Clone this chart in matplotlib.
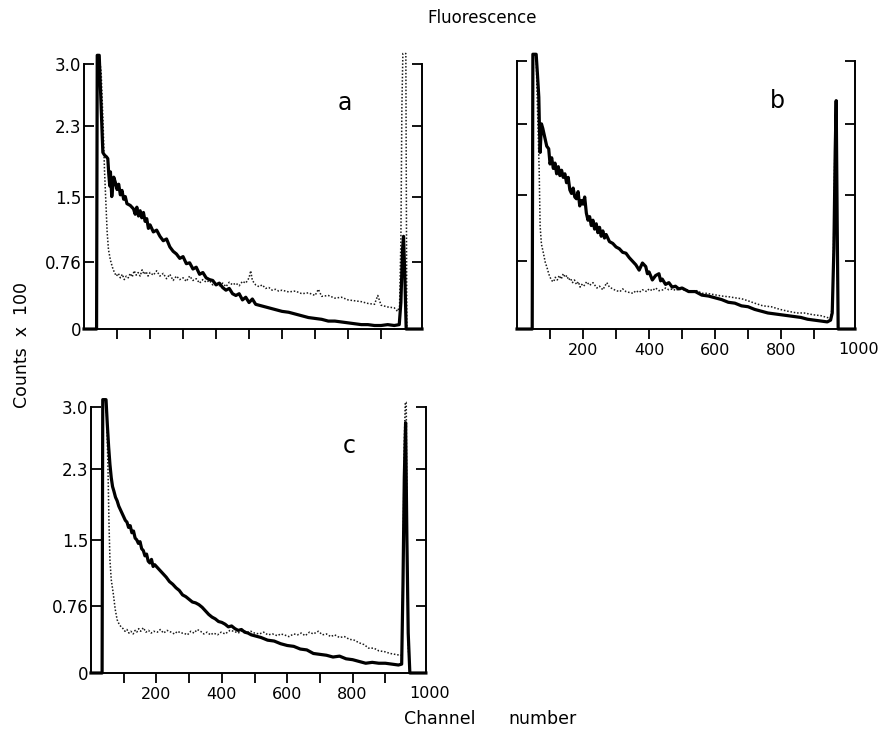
import matplotlib.pyplot as plt
import numpy as np

# channel / counts (x100)
a_solid_ch = [0, 38, 40, 46, 52, 57, 62, 68, 72, 75, 78, 80, 84, 90, 95, 100, 105, 110, 115, 120, 125, 130,
              140, 150, 155, 160, 165, 170, 175, 180, 185, 190, 195, 200, 210, 220, 230, 240, 250, 260, 270,
              280, 290, 300, 310, 320, 330, 340, 350, 360, 370, 380, 390, 400, 410, 420, 430, 440, 450, 460,
              470, 480, 490, 500, 510, 520, 530, 540, 560, 580, 600, 620, 640, 660, 680, 700, 720, 740, 760,
              780, 800, 820, 840, 860, 880, 900, 920, 940, 955, 960, 965, 968, 972, 976, 1024]
a_solid_val = [0, 0, 3.1, 3.1, 2.5, 2.0, 1.97, 1.95, 1.93, 1.75, 1.62, 1.78, 1.50, 1.72, 1.66, 1.58, 1.64,
               1.52, 1.57, 1.47, 1.50, 1.42, 1.40, 1.36, 1.30, 1.38, 1.28, 1.34, 1.26, 1.32, 1.22, 1.25, 1.14,
               1.18, 1.10, 1.12, 1.05, 1.00, 1.02, 0.93, 0.88, 0.85, 0.80, 0.82, 0.74, 0.75, 0.68, 0.70, 0.62,
               0.64, 0.58, 0.56, 0.55, 0.50, 0.52, 0.47, 0.44, 0.46, 0.40, 0.38, 0.40, 0.33, 0.36, 0.30, 0.34,
               0.28, 0.27, 0.26, 0.24, 0.22, 0.20, 0.19, 0.17, 0.15, 0.13, 0.12, 0.11, 0.09, 0.09, 0.08, 0.07,
               0.06, 0.05, 0.05, 0.04, 0.04, 0.05, 0.04, 0.05, 0.3, 0.9, 1.05, 0.6, 0.0, 0]

a_dot_ch = [0, 38, 40, 46, 52, 58, 62, 66, 70, 74, 80, 86, 92, 98, 104, 110, 116, 122, 128, 134, 140, 146,
            152, 158, 164, 170, 176, 182, 188, 194, 200, 210, 220, 230, 240, 250, 260, 270, 280, 290, 300,
            310, 320, 330, 340, 350, 360, 370, 380, 390, 400, 410, 420, 430, 440, 450, 460, 470, 480, 490,
            500, 505, 510, 520, 530, 540, 550, 560, 570, 580, 590, 600, 620, 640, 660, 680, 700, 710, 720,
            740, 760, 780, 800, 820, 840, 860, 880, 890, 900, 920, 940, 950, 956, 960, 963, 966, 975, 978, 1024]
a_dot_val = [0, 0, 3.1, 3.1, 2.9, 2.3, 1.8, 1.45, 1.1, 0.9, 0.78, 0.70, 0.64, 0.60, 0.63, 0.58, 0.62, 0.56,
             0.60, 0.58, 0.63, 0.59, 0.66, 0.61, 0.64, 0.60, 0.67, 0.62, 0.65, 0.60, 0.64, 0.61, 0.66, 0.60,
             0.63, 0.57, 0.62, 0.55, 0.60, 0.56, 0.58, 0.54, 0.60, 0.55, 0.57, 0.52, 0.56, 0.53, 0.55, 0.50,
             0.53, 0.49, 0.52, 0.48, 0.53, 0.50, 0.52, 0.49, 0.54, 0.52, 0.58, 0.66, 0.55, 0.50, 0.48, 0.50,
             0.46, 0.47, 0.44, 0.45, 0.43, 0.44, 0.42, 0.43, 0.40, 0.41, 0.38, 0.45, 0.37, 0.38, 0.35, 0.36,
             0.33, 0.32, 0.31, 0.29, 0.28, 0.38, 0.27, 0.25, 0.24, 0.20, 0.26, 1.0, 2.5, 3.12, 3.12, 0.0, 0]

b_solid_ch = [0, 46, 48, 58, 62, 66, 68, 70, 74, 78, 84, 90, 96, 100, 105, 110, 115, 120, 125, 130, 135,
              140, 145, 150, 155, 160, 165, 170, 175, 180, 185, 190, 195, 200, 205, 210, 215, 220, 225, 230,
              235, 240, 245, 250, 255, 260, 265, 270, 280, 290, 300, 310, 320, 330, 340, 350, 360, 370, 380,
              390, 395, 400, 410, 420, 430, 435, 440, 450, 460, 470, 480, 490, 500, 520, 540, 560, 580, 600,
              620, 640, 660, 680, 700, 720, 740, 760, 780, 800, 820, 840, 860, 880, 900, 920, 940, 950, 955,
              960, 964, 967, 970, 973, 1024]
b_solid_val = [0, 0, 3.08, 3.08, 2.85, 2.6, 2.25, 1.98, 2.3, 2.25, 2.15, 2.05, 2.02, 1.85, 1.92, 1.80, 1.86,
               1.74, 1.82, 1.72, 1.78, 1.70, 1.74, 1.64, 1.70, 1.56, 1.52, 1.58, 1.48, 1.46, 1.54, 1.38, 1.44,
               1.40, 1.48, 1.30, 1.22, 1.26, 1.16, 1.22, 1.12, 1.18, 1.08, 1.14, 1.04, 1.10, 1.02, 1.06, 0.98,
               0.96, 0.92, 0.90, 0.86, 0.85, 0.80, 0.76, 0.72, 0.66, 0.74, 0.70, 0.62, 0.64, 0.55, 0.60, 0.62,
               0.54, 0.56, 0.50, 0.52, 0.47, 0.48, 0.45, 0.46, 0.42, 0.42, 0.38, 0.37, 0.35, 0.33, 0.30, 0.29,
               0.26, 0.25, 0.22, 0.20, 0.18, 0.17, 0.16, 0.15, 0.14, 0.13, 0.11, 0.10, 0.09, 0.08, 0.10, 0.18,
               0.9, 2.0, 2.56, 1.2, 0.0, 0]

b_dot_ch = [0, 46, 48, 58, 60, 64, 67, 70, 74, 80, 86, 90, 96, 100, 106, 111, 116, 122, 128, 134, 140, 146,
            151, 156, 162, 168, 174, 180, 186, 191, 196, 202, 211, 220, 230, 242, 250, 260, 272, 280, 290,
            300, 312, 320, 330, 340, 352, 360, 370, 380, 393, 400, 410, 420, 430, 443, 450, 460, 473, 480,
            490, 500, 514, 530, 545, 560, 575, 590, 605, 620, 645, 660, 680, 697, 720, 745, 770, 797, 820,
            848, 870, 897, 920, 939, 950, 957, 962, 966, 970, 973, 1024]
b_dot_val = [0, 0, 3.08, 3.08, 2.75, 2.2, 1.8, 1.15, 0.95, 0.85, 0.74, 0.70, 0.62, 0.58, 0.54, 0.53, 0.58,
             0.55, 0.60, 0.56, 0.62, 0.58, 0.60, 0.55, 0.57, 0.52, 0.55, 0.50, 0.53, 0.47, 0.50, 0.48, 0.53,
             0.49, 0.52, 0.46, 0.48, 0.44, 0.52, 0.47, 0.45, 0.43, 0.42, 0.45, 0.42, 0.41, 0.40, 0.43, 0.41,
             0.44, 0.42, 0.45, 0.43, 0.46, 0.43, 0.44, 0.46, 0.44, 0.45, 0.43, 0.45, 0.44, 0.44, 0.42, 0.43,
             0.40, 0.40, 0.39, 0.38, 0.37, 0.36, 0.35, 0.34, 0.32, 0.29, 0.26, 0.25, 0.22, 0.20, 0.18, 0.18,
             0.16, 0.15, 0.13, 0.12, 0.3, 1.8, 2.5, 1.0, 0, 0]

c_solid_ch = [0, 34, 36, 46, 50, 54, 58, 62, 66, 70, 75, 80, 85, 90, 95, 100, 105, 110, 115, 120, 125, 130,
              135, 140, 145, 150, 155, 160, 165, 170, 175, 180, 185, 190, 195, 200, 210, 220, 230, 240, 250,
              260, 270, 280, 290, 300, 310, 320, 330, 340, 350, 360, 370, 380, 390, 400, 410, 420, 430, 440,
              450, 460, 470, 480, 490, 500, 520, 540, 560, 580, 600, 620, 640, 660, 680, 700, 720, 740, 760,
              780, 800, 820, 840, 860, 880, 900, 920, 940, 950, 954, 958, 962, 966, 970, 975, 1024]
c_solid_val = [0, 0, 3.08, 3.08, 2.8, 2.55, 2.35, 2.2, 2.1, 2.05, 1.98, 1.94, 1.88, 1.84, 1.80, 1.76, 1.72,
               1.70, 1.64, 1.66, 1.58, 1.60, 1.52, 1.50, 1.46, 1.48, 1.40, 1.38, 1.32, 1.34, 1.26, 1.24, 1.28,
               1.20, 1.22, 1.20, 1.16, 1.12, 1.08, 1.03, 1.00, 0.96, 0.93, 0.88, 0.86, 0.83, 0.80, 0.79, 0.77,
               0.74, 0.70, 0.66, 0.63, 0.61, 0.58, 0.57, 0.55, 0.52, 0.53, 0.50, 0.48, 0.49, 0.46, 0.45, 0.43,
               0.42, 0.40, 0.37, 0.36, 0.33, 0.31, 0.30, 0.27, 0.26, 0.22, 0.21, 0.20, 0.18, 0.19, 0.16, 0.15,
               0.13, 0.11, 0.12, 0.11, 0.11, 0.10, 0.09, 0.10, 1.0, 2.2, 2.82, 1.5, 0.45, 0.0, 0]

c_dot_ch = [0, 34, 36, 44, 48, 52, 55, 58, 62, 68, 74, 80, 86, 92, 98, 104, 110, 116, 122, 129, 135, 140,
            146, 152, 160, 168, 176, 184, 192, 203, 212, 222, 233, 245, 255, 265, 275, 283, 295, 305, 315,
            325, 335, 345, 355, 365, 375, 387, 398, 410, 425, 437, 450, 465, 478, 489, 500, 515, 528, 541,
            555, 570, 580, 591, 605, 620, 632, 643, 655, 668, 680, 695, 708, 720, 733, 745, 760, 775, 790,
            805, 820, 835, 849, 865, 880, 898, 915, 930, 945, 951, 954, 958, 961, 964, 967, 970, 975, 1024]
c_dot_val = [0, 0, 3.08, 3.08, 2.9, 2.3, 1.7, 1.27, 1.05, 0.90, 0.72, 0.60, 0.55, 0.52, 0.50, 0.47, 0.49,
             0.45, 0.47, 0.44, 0.48, 0.46, 0.50, 0.47, 0.51, 0.46, 0.48, 0.45, 0.47, 0.46, 0.49, 0.45, 0.48,
             0.46, 0.44, 0.47, 0.45, 0.45, 0.43, 0.47, 0.45, 0.49, 0.47, 0.44, 0.46, 0.43, 0.45, 0.43, 0.46,
             0.44, 0.48, 0.47, 0.45, 0.48, 0.46, 0.47, 0.45, 0.44, 0.46, 0.43, 0.44, 0.42, 0.44, 0.43, 0.41,
             0.44, 0.43, 0.45, 0.42, 0.46, 0.44, 0.47, 0.43, 0.44, 0.41, 0.43, 0.40, 0.41, 0.38, 0.37, 0.34,
             0.32, 0.28, 0.28, 0.25, 0.24, 0.22, 0.21, 0.20, 0.20, 1.2, 2.6, 3.05, 3.05, 1.2, 0.3, 0, 0]

y_ticks = [0, 0.76, 1.5, 2.3, 3.0]
y_ticklabels = ['0', '0.76', '1.5', '2.3', '3.0']
x_ticks = [100, 200, 300, 400, 500, 600, 700, 800, 900]
x_ticklabels = ['', '200', '', '400', '', '600', '', '800', '']

panels = [
    ('a', [0.0956, 0.5505, 0.3845, 0.386], a_solid_ch, a_solid_val, a_dot_ch, a_dot_val, True, False),
    ('b', [0.5882, 0.5505, 0.3845, 0.390], b_solid_ch, b_solid_val, b_dot_ch, b_dot_val, False, True),
    ('c', [0.1035, 0.0806, 0.3810, 0.388], c_solid_ch, c_solid_val, c_dot_ch, c_dot_val, True, True),
]

fig = plt.figure(figsize=(8.79, 7.32), dpi=100)

for letter, rect, sx, sy, dx, dy, ylab, xlab in panels:
    ax = fig.add_axes(rect)
    ax.plot(dx, dy, color='0.1', lw=1.1, ls=(0, (1, 1.2)), clip_on=False)
    ax.plot(sx, sy, color='black', lw=2.3, clip_on=False)
    ax.set_xlim(0, 1024)
    ax.set_ylim(0, 3.2)

    ax.spines['top'].set_visible(False)
    for side in ['left', 'right', 'bottom']:
        ax.spines[side].set_linewidth(1.4)
    ax.spines['left'].set_bounds(0, 3.0)
    ax.spines['right'].set_bounds(0, 3.0)

    ax.set_yticks(y_ticks)
    if ylab:
        ax.set_yticklabels(y_ticklabels)
    else:
        ax.set_yticklabels([])
    ax.tick_params(axis='y', direction='in', length=7, width=1.3, pad=2, labelsize=12,
                   left=True, right=True)

    ax.set_xticks(x_ticks)
    if xlab:
        ax.set_xticklabels(x_ticklabels)
        ax.annotate('1000', xy=(1036, 0), xycoords=('data', 'axes fraction'),
                    xytext=(0, -9.5), textcoords='offset points', ha='center', va='top', fontsize=11.5)
    else:
        ax.set_xticklabels([])
    ax.tick_params(axis='x', direction='out', length=7, width=1.3, pad=3, labelsize=11.5)

    ax.text(790, 2.56, letter, fontsize=17, ha='center', va='center')

fig.text(482 / 879, 1 - 18 / 732, 'Fluorescence', ha='center', va='center', fontsize=12)
fig.text(22 / 879, 1 - 345 / 732, 'Counts  x  100', rotation=90, ha='center', va='center', fontsize=12.5)
fig.text(440 / 879, 1 - 719 / 732, 'Channel', ha='center', va='center', fontsize=12.5)
fig.text(542 / 879, 1 - 719 / 732, 'number', ha='center', va='center', fontsize=12.5)

fig.savefig('out.png', dpi=100)
